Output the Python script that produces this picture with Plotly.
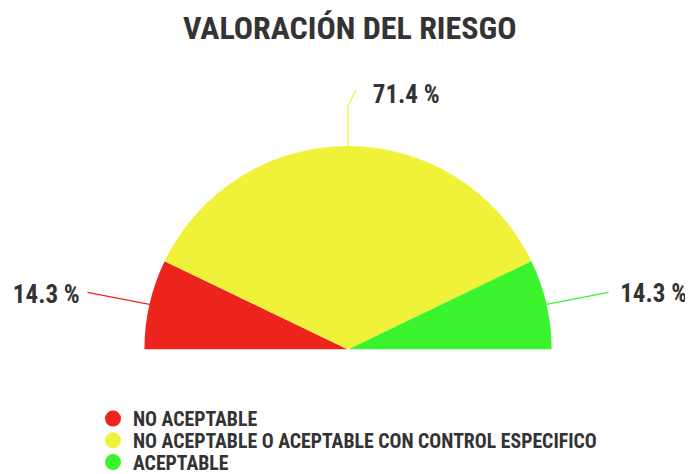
import numpy as np
import plotly.graph_objects as go

categories = ["NO ACEPTABLE", "NO ACEPTABLE O ACEPTABLE CON CONTROL ESPECIFICO", "ACEPTABLE"]
percentages = [14.3, 71.4, 14.3]
value_labels = ["14.3 %", "71.4 %", "14.3 %"]
colors = ["#EC241C", "#F0F23A", "#3AF42E"]

FONT = "Roboto Condensed, Liberation Sans Narrow, Arial Narrow, Roboto, sans-serif"
TXT = "#333333"

vals = np.array(percentages, dtype=float)
widths = vals / vals.sum() * 180.0
starts = np.concatenate([[0], np.cumsum(widths)[:-1]])
centers = starts + widths / 2

fig = go.Figure()

# semicircle slices
fig.add_trace(go.Barpolar(
    r=[1] * len(vals), theta=centers, width=widths, base=0,
    marker=dict(color=colors, line=dict(width=0)),
    showlegend=False, hoverinfo="skip"))

# leader lines + labels
for i, (c, lab) in enumerate(zip(centers, value_labels)):
    if abs(c - 90) < 30:
        r_line = [1.0, 1.2, 1.276]
        t_line = [c, c, c + 1.8]
        r_txt, t_txt = 1.245, c + 3.0
        pos = "middle right"
        txt = "  " + lab
    elif c < 90:
        r_line = [1.0, 1.31]
        t_line = [c, c - 0.5]
        r_txt, t_txt = 1.315, c - 1.5
        pos = "middle left"
        txt = lab + " "
    else:
        r_line = [1.0, 1.31]
        t_line = [c, c + 0.5]
        r_txt, t_txt = 1.335, c + 1.5
        pos = "middle right"
        txt = " " + lab
    fig.add_trace(go.Scatterpolar(
        r=r_line, theta=t_line, mode="lines",
        line=dict(color=colors[i], width=1.3),
        showlegend=False, hoverinfo="skip", cliponaxis=False))
    fig.add_trace(go.Scatterpolar(
        r=[r_txt], theta=[t_txt], mode="text", text=[txt],
        textposition=pos,
        textfont=dict(family=FONT, size=25, color=TXT, weight="bold"),
        showlegend=False, hoverinfo="skip", cliponaxis=False))

# legend entries (circles), one legend each for exact spacing
legend_ids = ["legend", "legend2", "legend3"]
legend_y = [416, 438, 460]
for cat, col, lid in zip(categories, colors, legend_ids):
    fig.add_trace(go.Scatterpolar(
        r=[None], theta=[None], mode="markers", name=cat, legend=lid,
        marker=dict(color=col, size=16, symbol="circle")))

leg_common = dict(x=85 / 693, xanchor="left", yanchor="middle",
                  font=dict(family=FONT, size=19.8, color=TXT, weight="bold"),
                  bgcolor="rgba(0,0,0,0)")

fig.update_layout(
    width=693, height=474,
    margin=dict(l=0, r=0, t=0, b=0),
    paper_bgcolor="white",
    title=dict(text="VALORACIÓN DEL RIESGO", x=0.4932, xanchor="center",
               y=1 - 20 / 474, yref="container", yanchor="middle",
               font=dict(family=FONT, size=32, color=TXT, weight="bold")),
    polar=dict(
        sector=[0, 180],
        domain=dict(x=[51.25 / 693, 628.75 / 693], y=[128 / 474, 416.7 / 474]),
        bgcolor="rgba(0,0,0,0)",
        radialaxis=dict(range=[0, 1.4], visible=False),
        angularaxis=dict(rotation=180, direction="clockwise", visible=False),
    ),
    legend=dict(y=1 - legend_y[0] / 474, **leg_common),
    legend2=dict(y=1 - legend_y[1] / 474, **leg_common),
    legend3=dict(y=1 - legend_y[2] / 474, **leg_common),
)

fig.write_html("out.html")
